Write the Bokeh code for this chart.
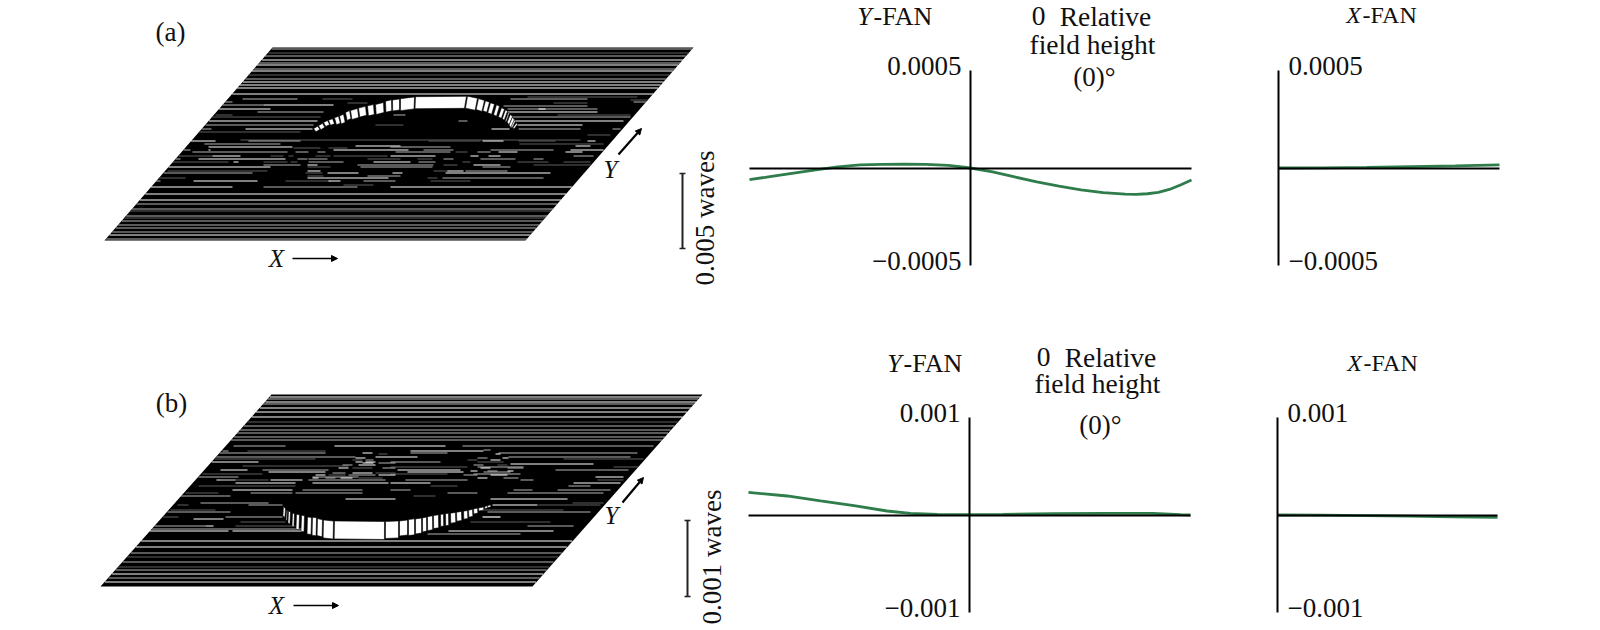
import numpy as np
from bokeh.embed import file_html
from bokeh.layouts import column, row
from bokeh.models import Arrow, FixedTicker, Label, NormalHead, Range1d
from bokeh.plotting import figure
from bokeh.resources import INLINE

# ray fan curves, relative pupil against waves
a_yfan_pupil = [-1, -0.9, -0.8, -0.7, -0.6, -0.5, -0.4, -0.3, -0.2, -0.1, 0, 0.1, 0.2, 0.3, 0.4, 0.5, 0.6, 0.7, 0.75, 0.8, 0.85, 0.9, 0.95, 1]
a_yfan_waves = [-6.0e-5, -4.3e-5, -2.6e-5, -1.0e-5, 0.6e-5, 1.6e-5, 1.9e-5, 2.0e-5, 1.9e-5, 1.3e-5, 0, -2.0e-5, -4.6e-5, -7.1e-5, -9.3e-5, -11.2e-5, -12.6e-5, -13.4e-5, -13.5e-5, -13.2e-5, -12.5e-5, -11.0e-5, -8.7e-5, -6.2e-5]
a_xfan_pupil = [0, 0.2, 0.4, 0.6, 0.8, 1]
a_xfan_waves = [0, 0.1e-5, 0.3e-5, 0.7e-5, 1.1e-5, 1.6e-5]
a_ticks = [-0.0005, 0.0005]
a_tick_labels = ["\u22120.0005", "0.0005"]

b_yfan_pupil = [-1, -0.825, -0.674, -0.523, -0.373, -0.267, -0.146, 0, 0.15, 0.38, 0.61, 0.83, 0.955, 1]
b_yfan_waves = [2.32e-4, 1.95e-4, 1.44e-4, 0.96e-4, 0.41e-4, 0.17e-4, 0.07e-4, 0.03e-4, 0.07e-4, 0.14e-4, 0.17e-4, 0.17e-4, 0.03e-4, 0]
b_xfan_pupil = [0, 0.2, 0.4, 0.6, 0.8, 1]
b_xfan_waves = [0, -0.2e-5, -0.6e-5, -1.2e-5, -1.9e-5, -2.5e-5]
b_ticks = [-0.001, 0.001]
b_tick_labels = ["\u22120.001", "0.001"]

# surface outline, picture units
a_corner_x = [272, 693, 525, 104]
a_corner_y = [47, 47, 240, 240]
b_corner_x = [271, 702, 532, 100]
b_corner_y = [394, 394, 586, 586]

# scan lines across the whole surface: row, brightness (2 white, 1 grey, 0 dark grey)
a_full_y = [48, 52, 55.7, 59, 62.3, 64.7, 68, 70.7, 74.7, 78, 81.3, 84.7, 87.7, 93.3, 193.3, 199.3, 203.3, 208.3, 210.7, 215, 217.3, 220, 224.3, 227.3, 231, 234.3, 238]
a_full_level = [1, 0, 1, 2, 1, 2, 1, 2, 0, 1, 2, 2, 2, 2, 2, 2, 1, 1, 0, 1, 0, 1, 1, 1, 1, 2, 1]
b_full_y = [396, 398.7, 401, 403.7, 407, 411.3, 416.3, 421.3, 425.3, 429.7, 432.7, 436, 439.3, 540.3, 546.3, 552, 556.3, 561.3, 566.3, 569, 573, 577, 581]
b_full_level = [2, 1, 2, 1, 2, 2, 2, 0, 1, 1, 1, 1, 1, 2, 2, 1, 0, 1, 0, 1, 2, 1, 2]

# broken scan lines: row and its (start, end, brightness) pieces
a_rows_y = [96.7, 98.3, 99.5, 101.5, 102.3, 104.7, 105.7, 108.3, 111.3, 114.5, 116.7, 120, 124, 128.3, 131.7, 134, 139, 140.7, 143, 145, 146, 147.3, 149.2, 151.7, 155, 158.3, 161.3, 164.5, 166.7, 170, 172, 175, 177.7, 180.7, 184, 186.7]
a_rows_spans = [
    [(527, 637, 0)],
    [(242, 297, 1), (322, 352, 0), (510, 587, 1)],
    [(630, 650, 0)],
    [(224, 232, 1), (633, 647, 1)],
    [(347, 367, 0), (553, 587, 0)],
    [(222, 263, 1), (263, 333, 2)],
    [(503, 587, 1)],
    [(217, 270, 2), (507, 597, 1), (538, 545, 2)],
    [(257, 323, 1), (507, 597, 2)],
    [(215, 232, 0), (393, 405, 1), (557, 630, 0)],
    [(210, 320, 0), (508, 630, 1)],
    [(207, 317, 2), (458, 467, 1), (513, 623, 2)],
    [(203, 313, 1), (375, 403, 0), (517, 582, 2)],
    [(200, 211, 1), (245, 312, 2), (491, 509, 2), (518, 580, 1), (612, 620, 1)],
    [(193, 300, 0)],
    [(587, 610, 0)],
    [(240, 580, 0)],
    [(188, 215, 2), (248, 300, 1), (428, 480, 0), (482, 503, 2), (518, 555, 0), (587, 595, 2)],
    [(204, 280, 1), (519, 603, 0)],
    [(355, 400, 2), (575, 590, 2)],
    [(208, 292, 2), (390, 450, 1)],
    [(293, 320, 0), (328, 347, 0)],
    [(182, 190, 1), (208, 210, 2), (333, 408, 2), (423, 453, 1), (490, 553, 1), (570, 603, 2)],
    [(192, 287, 1), (295, 308, 1), (317, 325, 1), (395, 450, 1), (455, 467, 0), (477, 490, 1), (498, 517, 2), (565, 582, 2)],
    [(178, 212, 0), (212, 240, 2), (270, 283, 0), (288, 293, 0), (315, 330, 0), (333, 387, 0), (390, 435, 2), (470, 478, 2), (488, 500, 2), (573, 593, 1)],
    [(175, 180, 1), (198, 285, 2), (297, 307, 1), (308, 327, 1), (367, 400, 0), (417, 432, 0), (443, 453, 1), (480, 515, 1), (533, 543, 1)],
    [(172, 228, 0), (233, 238, 2), (263, 287, 0), (290, 297, 0), (308, 343, 1), (373, 410, 2), (418, 435, 1), (462, 470, 0), (517, 548, 0), (563, 590, 0)],
    [(263, 300, 1), (307, 317, 2), (357, 433, 1), (443, 457, 0), (473, 500, 2), (533, 593, 0)],
    [(168, 270, 2), (307, 330, 0), (360, 432, 1), (482, 510, 1)],
    [(167, 267, 0), (307, 320, 2), (433, 448, 0), (447, 463, 2), (465, 507, 1)],
    [(162, 252, 1), (305, 322, 0), (327, 358, 2), (392, 402, 2), (445, 550, 2)],
    [(307, 323, 0), (367, 400, 1)],
    [(157, 185, 0), (307, 388, 2), (427, 437, 0), (442, 543, 1)],
    [(155, 160, 1), (193, 257, 2), (285, 330, 0), (328, 340, 2), (363, 395, 1), (430, 470, 0)],
    [(343, 373, 0)],
    [(150, 232, 2), (263, 357, 1), (390, 575, 2)],
]

b_rows_y = [445.7, 450.3, 452.3, 456, 458, 461, 463.3, 465, 466.3, 469.3, 471.3, 473.8, 476, 479.5, 482.5, 485.5, 489, 492, 495.5, 498.8, 502, 504.8, 509.7, 511.5, 516.3, 518.7, 521, 525.5, 528, 530.7, 533,
            449, 453.5, 457, 459.5, 462, 464.5, 467.5, 470.5, 472.5, 474.8, 477.7]
b_rows_spans = [
    [(233, 285, 1), (334, 445, 2), (462, 653, 1)],
    [(222, 228, 1), (247, 325, 0), (410, 483, 2)],
    [(218, 325, 1), (362, 372, 2), (410, 447, 1), (498, 637, 1)],
    [(215, 355, 1), (375, 417, 2), (508, 630, 1)],
    [(212, 315, 0), (563, 643, 0)],
    [(210, 258, 2), (355, 362, 2), (365, 375, 2), (390, 440, 1), (477, 503, 0)],
    [(510, 593, 2)],
    [(242, 348, 0)],
    [(390, 467, 0), (477, 523, 1), (613, 640, 0)],
    [(220, 247, 2), (262, 328, 1), (397, 460, 2), (555, 628, 1)],
    [(268, 325, 2), (407, 463, 2), (483, 510, 1)],
    [(202, 262, 0), (390, 447, 0), (473, 520, 1)],
    [(198, 238, 1), (312, 358, 1), (595, 623, 2)],
    [(216, 235, 2), (220, 268, 0), (270, 302, 2), (308, 385, 1), (405, 467, 1), (520, 533, 1), (597, 623, 0)],
    [(235, 295, 2), (312, 388, 2), (390, 430, 2), (573, 620, 2)],
    [(198, 295, 0), (430, 457, 0), (568, 590, 1)],
    [(232, 292, 2), (302, 362, 1), (390, 410, 1), (513, 532, 1), (557, 610, 1)],
    [(185, 218, 0), (250, 292, 1), (295, 362, 1), (447, 477, 1), (507, 603, 1)],
    [(180, 230, 1), (413, 435, 0)],
    [(345, 395, 2), (490, 567, 2)],
    [(200, 268, 1), (572, 603, 0)],
    [(177, 188, 0), (248, 282, 1), (492, 537, 2), (538, 600, 0)],
    [(170, 215, 0), (480, 563, 0)],
    [(167, 230, 1), (487, 590, 1)],
    [(162, 178, 0), (225, 282, 1), (482, 500, 2)],
    [(193, 223, 2)],
    [(240, 285, 0), (470, 550, 0)],
    [(153, 205, 1), (205, 213, 2), (235, 295, 0), (527, 573, 1)],
    [(148, 302, 1)],
    [(145, 228, 2), (232, 302, 2), (448, 553, 2)],
    [(427, 520, 1)],
    [(483, 490, 1)],
    [(378, 387, 0), (495, 500, 2)],
    [(355, 365, 2), (477, 487, 1), (502, 508, 2)],
    [(352, 362, 0), (365, 373, 1), (467, 477, 0), (490, 500, 2)],
    [(362, 373, 2), (378, 395, 1)],
    [(342, 352, 1), (358, 375, 2), (473, 483, 1), (497, 507, 0)],
    [(338, 348, 2), (352, 372, 0), (382, 395, 1), (480, 490, 2), (507, 523, 1)],
    [(470, 477, 2), (487, 497, 1), (507, 513, 2)],
    [(332, 345, 1), (352, 372, 2), (375, 395, 0)],
    [(315, 325, 2), (328, 345, 0), (348, 375, 1), (378, 395, 2), (463, 477, 1), (490, 507, 2)],
    [(312, 318, 2), (325, 335, 1), (340, 352, 2), (358, 382, 0), (477, 487, 2), (503, 518, 1)],
]

# white wall pieces of the surface bump: left, right, top row, height
a_rim_x0 = [313, 318, 323, 328, 334, 339, 345, 350, 358, 367, 375, 385, 392, 400, 415, 467, 478, 485, 490, 496, 501, 505, 508, 510, 512, 514, 516]
a_rim_x1 = [317, 322, 327, 332, 338, 343, 349, 357, 365, 373, 383, 391, 399, 414, 466, 477, 484, 489, 494, 499, 504, 507, 509, 512, 514, 515, 517]
a_rim_y = [127, 124, 121, 119, 116.5, 114.6, 111, 109, 106.7, 104.7, 103, 100, 99, 97.3, 96, 96.7, 99, 101, 103, 105, 108, 110, 112, 115, 118, 120, 123]
a_rim_h = [3, 4, 4, 5, 7, 8, 8, 9, 9, 10, 10, 11, 11, 12, 12, 12, 11, 10, 10, 10, 9, 9, 9, 8, 8, 7, 5]
b_rim_x0 = [283, 286, 288, 292, 296, 301, 307, 312, 317, 323, 334, 385, 399, 408, 415, 422, 427, 433, 440, 445, 450, 456, 463, 468, 473, 478, 484, 487]
b_rim_x1 = [285, 287, 290, 294, 299, 304, 311, 316, 322, 333, 384, 398, 407, 414, 421, 426, 432, 438, 443, 448, 455, 461, 467, 472, 477, 483, 487, 490]
b_rim_y = [507, 510, 511, 513, 514, 515, 516.7, 517, 518.7, 520, 520.7, 520.7, 520, 518.7, 518, 517, 515.7, 514.7, 513.7, 513, 512.3, 511.3, 510.3, 509.3, 508, 507, 505.7, 504.7]
b_rim_h = [9, 10, 12, 13, 15, 16, 17, 18, 17, 18, 18, 17, 15, 16, 15, 14, 14, 13, 12, 12, 10, 9, 8, 7, 5, 3, 2, 2]

FONT = "Liberation Serif"
GREEN = "#2f7d4a"
SHADES = {2: "#ffffff", 1: "#b4b4b4", 0: "#5e5e5e"}

# page position of the three columns
SURF_LEFT, YFAN_LEFT, XFAN_LEFT, RIGHT = 0, 732, 1200, 1600


def add_text(p, left, top, x, y, text, size="27px", align="center", style="normal", angle=0):
    # middle baseline of this font sits low, lift it a bit
    p.add_layout(Label(x=x - left, y=y - top - 1.5, x_units="canvas", y_units="canvas", text=text,
                       text_font=FONT, text_font_size=size, text_font_style=style,
                       text_align=align, text_baseline="middle", text_color="#111111",
                       angle=angle, angle_units="deg"))


def surface(top, bottom, corner_x, corner_y, full_y, full_level, rows_y, rows_spans,
            rim_x0, rim_x1, rim_y, rim_h, lean):
    p = figure(width=YFAN_LEFT - SURF_LEFT, height=bottom - top, output_backend="svg",
               toolbar_location=None, tools=[], min_border=0, outline_line_color=None,
               x_range=Range1d(SURF_LEFT, YFAN_LEFT), y_range=Range1d(bottom, top),
               x_axis_type=None, y_axis_type=None)
    p.grid.visible = False
    p.patch(corner_x, corner_y, color="black", line_width=0)

    top_y, bottom_y = corner_y[0], corner_y[2]
    shear = (corner_x[0] - corner_x[3]) / (bottom_y - top_y)

    def edges(y):
        left = corner_x[0] - shear * (y - top_y)
        return left, left + corner_x[1] - corner_x[0]

    # rows are snapped on pixel centres to stay crisp
    x0s, x1s, ys, colors = [], [], [], []
    for y, level in zip(full_y, full_level):
        left, right = edges(y)
        x0s.append(left)
        x1s.append(right)
        ys.append(np.floor(y) + 0.5)
        colors.append(SHADES[level])
    for y, spans in zip(rows_y, rows_spans):
        left, right = edges(y)
        for x0, x1, level in spans:
            x0s.append(max(x0, left))
            x1s.append(min(x1, right))
            ys.append(np.floor(y) + 0.5)
            colors.append(SHADES[level])
    p.segment(x0s, ys, x1s, ys, line_color=colors, line_width=1.2)

    x0 = np.array(rim_x0, dtype=float)
    x1 = np.array(rim_x1, dtype=float)
    y = np.array(rim_y, dtype=float)
    h = np.array(rim_h, dtype=float)
    slope = np.gradient(y, (x0 + x1) / 2) * (x1 - x0) / 2
    centre = (corner_x[0] + corner_x[2]) / 2
    xs = [[a, b, b + (centre - b) * lean, a + (centre - a) * lean] for a, b in zip(x0, x1)]
    ys = [[m - s, m + s, m + s + d, m - s + d] for m, s, d in zip(y, slope, h)]
    p.patches(xs, ys, fill_color="white", line_color="black", line_width=0.6)
    return p


def fan(left, right, top, bottom, x_centre, y_centre, half_x, half_y, pupil, waves, ticks, labels, bounds, side):
    per_x = 1 / half_x
    per_y = ticks[1] / half_y
    p = figure(width=right - left, height=bottom - top, output_backend="svg",
               toolbar_location=None, tools=[], min_border=0, outline_line_color=None,
               x_range=Range1d((left - x_centre) * per_x, (right - x_centre) * per_x),
               y_range=Range1d((y_centre - bottom) * per_y, (y_centre - top) * per_y),
               y_axis_location=side)
    p.grid.visible = False
    p.xaxis.fixed_location = 0
    p.yaxis.fixed_location = 0
    p.xaxis.bounds = bounds
    p.yaxis.bounds = (ticks[0], ticks[1])
    p.xaxis.ticker = FixedTicker(ticks=[])
    p.yaxis.ticker = FixedTicker(ticks=[])
    for axis in (p.xaxis, p.yaxis):
        axis.axis_line_color = "black"
        axis.axis_line_width = 2
        axis.major_tick_line_color = None
        axis.minor_tick_line_color = None
    p.line(pupil, waves, color=GREEN, line_width=2.8)
    # tick texts sit a little above their tick in the reference
    for tick, text in zip(ticks, labels):
        p.add_layout(Label(x=0, y=tick, text=text, text_font=FONT, text_font_size="27px",
                           text_color="#111111", text_baseline="middle",
                           text_align="right" if side == "left" else "left",
                           x_offset=-9 if side == "left" else 10, y_offset=4.5))
    return p


def scale_bar(p, x, y0, y1):
    p.segment([x], [y0], [x], [y1], line_color="#222222", line_width=2)
    p.scatter([x, x], [y0, y1], marker="dash", size=6, line_color="#222222", line_width=1.6)


def arrow(p, x0, y0, x1, y1, width=1.6):
    p.add_layout(Arrow(end=NormalHead(size=6, fill_color="black", line_color="black"),
                       x_start=x0, y_start=y0, x_end=x1, y_end=y1,
                       line_color="black", line_width=width))


# panel (a)
T1, B1 = 0, 318
s1 = surface(T1, B1, a_corner_x, a_corner_y, a_full_y, a_full_level, a_rows_y, a_rows_spans,
             a_rim_x0, a_rim_x1, a_rim_y, a_rim_h, 0.03)
scale_bar(s1, 682, 173, 248)
arrow(s1, 292, 258, 337, 258)
arrow(s1, 618, 154, 641, 128, 2.2)
add_text(s1, SURF_LEFT, T1, 170, 33, "(a)")
add_text(s1, SURF_LEFT, T1, 276, 259, "X", size="25px", style="italic")
add_text(s1, SURF_LEFT, T1, 610, 170, "Y", size="25px", style="italic")
add_text(s1, SURF_LEFT, T1, 704, 219, "0.005 waves", angle=90)

f1 = fan(YFAN_LEFT, XFAN_LEFT, T1, B1, 970, 167.5, 221, 97.5, a_yfan_pupil, a_yfan_waves,
         a_ticks, a_tick_labels, (-1, 1), "left")
add_text(f1, YFAN_LEFT, T1, 864, 17, "Y", size="26px", style="italic")
add_text(f1, YFAN_LEFT, T1, 873, 17, "-FAN", size="26px", align="left")
add_text(f1, YFAN_LEFT, T1, 1038, 17, "0", size="27.5px")
add_text(f1, YFAN_LEFT, T1, 1105, 17, "Relative", size="27.5px")
add_text(f1, YFAN_LEFT, T1, 1092, 45, "field height", size="27.5px")
add_text(f1, YFAN_LEFT, T1, 1094, 78, "(0)\u00b0")

g1 = fan(XFAN_LEFT, RIGHT, T1, B1, 1278, 167.5, 221, 97.5, a_xfan_pupil, a_xfan_waves,
         a_ticks, a_tick_labels, (0, 1), "right")
add_text(g1, XFAN_LEFT, T1, 1353, 16, "X", size="24px", style="italic")
add_text(g1, XFAN_LEFT, T1, 1362, 16, "-FAN", size="24px", align="left")

# panel (b)
T2, B2 = 318, 630
s2 = surface(T2, B2, b_corner_x, b_corner_y, b_full_y, b_full_level, b_rows_y, b_rows_spans,
             b_rim_x0, b_rim_x1, b_rim_y, b_rim_h, -0.005)
scale_bar(s2, 687, 520, 596)
arrow(s2, 293, 605, 338, 605)
arrow(s2, 622, 502, 643, 477, 2.2)
add_text(s2, SURF_LEFT, T2, 171, 404, "(b)")
add_text(s2, SURF_LEFT, T2, 276, 606, "X", size="25px", style="italic")
add_text(s2, SURF_LEFT, T2, 611, 516, "Y", size="25px", style="italic")
add_text(s2, SURF_LEFT, T2, 711, 558, "0.001 waves", angle=90)

f2 = fan(YFAN_LEFT, XFAN_LEFT, T2, B2, 969, 514.5, 221, 97.5, b_yfan_pupil, b_yfan_waves,
         b_ticks, b_tick_labels, (-1, 1), "left")
add_text(f2, YFAN_LEFT, T2, 894, 364, "Y", size="26px", style="italic")
add_text(f2, YFAN_LEFT, T2, 903, 364, "-FAN", size="26px", align="left")
add_text(f2, YFAN_LEFT, T2, 1043, 358, "0", size="27.5px")
add_text(f2, YFAN_LEFT, T2, 1110, 358, "Relative", size="27.5px")
add_text(f2, YFAN_LEFT, T2, 1097, 384, "field height", size="27.5px")
add_text(f2, YFAN_LEFT, T2, 1100, 426, "(0)\u00b0")

g2 = fan(XFAN_LEFT, RIGHT, T2, B2, 1277, 514.5, 220, 97.5, b_xfan_pupil, b_xfan_waves,
         b_ticks, b_tick_labels, (0, 1), "right")
add_text(g2, XFAN_LEFT, T2, 1354, 364, "X", size="24px", style="italic")
add_text(g2, XFAN_LEFT, T2, 1363, 364, "-FAN", size="24px", align="left")

page = column(row(s1, f1, g1, spacing=0), row(s2, f2, g2, spacing=0), spacing=0)
open("out.html", "w").write(file_html(page, INLINE))
